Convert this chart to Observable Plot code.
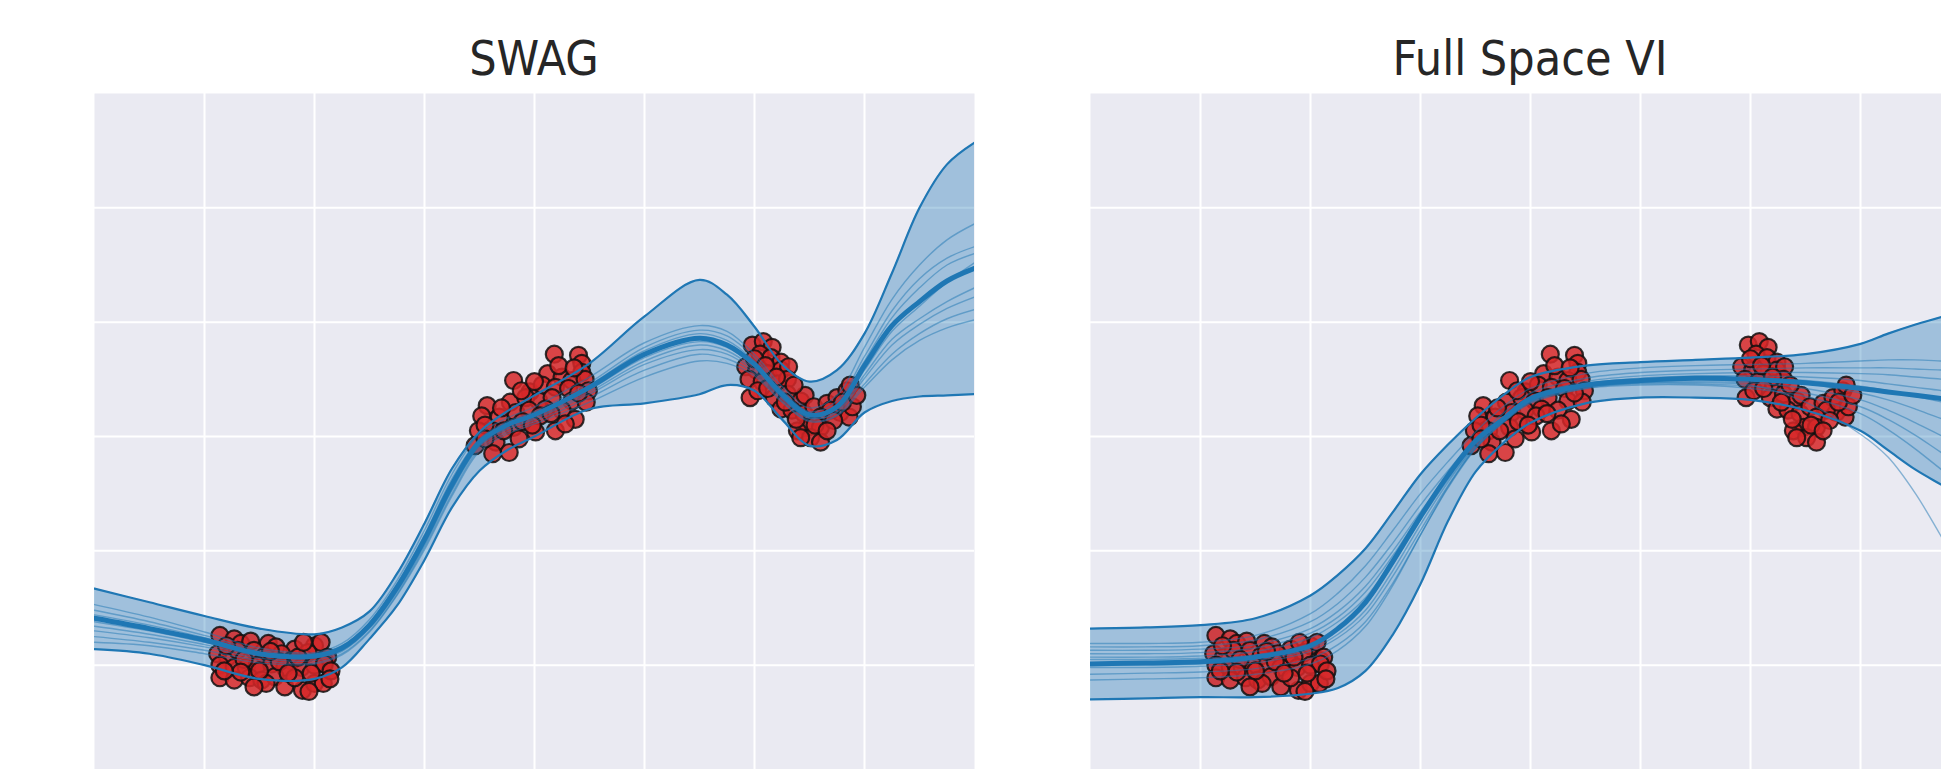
<!DOCTYPE html>
<html>
<head>
<meta charset="utf-8">
<script src="https://cdn.jsdelivr.net/npm/d3@7"></script>
<script src="https://cdn.jsdelivr.net/npm/@observablehq/plot@0.6"></script>
<style>
  html, body { margin: 0; padding: 0; background: #fff; overflow: hidden; width: 1941px; height: 769px; position: relative; }
  .panel { position: absolute; top: 0; width: 996px; height: 779px; }
  .panel svg { max-width: none !important; }
  .title { position: absolute; top: 34px; width: 880px; text-align: center;
           font-family: "DejaVu Sans Condensed", "DejaVu Sans", sans-serif; font-stretch: condensed;
           font-size: 48px; line-height: 48px; color: #262626; }
</style>
</head>
<body>
<div id="p1" class="panel" style="left:0px"></div>
<div id="p2" class="panel" style="left:996px"></div>
<div class="title" id="t1" style="left:94px"></div>
<div class="title" id="t2" style="left:1090px"></div>
<script>
// ---------- panel titles ----------
const titles = ["SWAG", "Full Space VI"];

// ---------- grid positions (no tick labels shown) ----------
const xGrid = [1, 2, 3, 4, 5, 6, 7];
const yGrid = [-2, -1, 0, 1, 2];

// ---------- observed data (same in both panels) ----------
const clusterLeft = [
  [1.14,-1.74],[1.27,-1.77],[1.33,-1.81],[1.42,-1.79],[1.58,-1.81],[1.65,-1.84],[1.82,-1.86],[2.00,-1.83],[2.06,-1.80],
  [1.12,-1.90],[1.21,-1.93],[1.30,-1.87],[1.45,-1.87],[1.55,-1.92],[1.70,-1.90],[1.79,-1.96],[1.94,-1.89],[2.09,-1.96],[2.12,-1.93],
  [1.14,-2.00],[1.27,-2.02],[1.38,-2.02],[1.48,-2.00],[1.61,-1.99],[1.73,-2.02],[1.88,-2.02],[2.00,-2.00],[2.09,-1.99],
  [1.14,-2.11],[1.27,-2.13],[1.41,-2.11],[1.52,-2.13],[1.64,-2.10],[1.73,-2.19],[1.89,-2.22],[2.00,-2.16],[2.08,-2.16],[1.82,-2.11],[1.56,-2.16],
  [1.20,-1.83],[1.36,-1.95],[1.50,-2.05],[1.68,-1.97],[1.85,-1.93],[1.97,-2.07],[2.15,-2.05],[1.33,-2.06],[1.60,-1.88],
  [1.76,-2.07],[1.45,-2.19],[1.95,-2.23],[2.14,-2.12],[1.18,-2.05],[1.90,-1.80]
];
const clusterMiddle = [
  [4.18,0.72],[4.40,0.71],[4.43,0.64],[4.43,0.56],[3.81,0.49],[4.12,0.55],[4.25,0.52],[4.34,0.49],[4.46,0.50],
  [3.96,0.39],[4.07,0.45],[4.19,0.43],[4.31,0.42],[4.49,0.40],
  [3.78,0.30],[3.92,0.34],[4.04,0.31],[4.16,0.34],[4.34,0.31],
  [3.57,0.27],[3.52,0.18],[3.68,0.17],[3.83,0.21],[3.95,0.23],[4.10,0.24],[4.25,0.23],[4.37,0.15],
  [4.19,0.05],[4.01,0.04],[3.81,0.08],[3.62,0.05],[3.49,0.05],[3.65,-0.05],[3.77,-0.14],[3.62,-0.15],[3.46,-0.08],[3.89,0.13],[4.28,0.11],
  [3.55,0.10],[3.70,0.25],[3.88,0.40],[4.00,0.48],[4.22,0.62],[4.36,0.60],[4.47,0.30],[4.05,0.18],[3.72,0.05],
  [3.55,-0.02],[4.15,0.20],[3.86,-0.02],[4.40,0.38],[3.98,0.10]
];
const clusterRight = [
  [5.98,0.80],[6.08,0.83],[6.16,0.78],[6.05,0.72],[6.15,0.69],[6.24,0.65],[5.92,0.61],[6.02,0.58],[6.12,0.55],[6.24,0.58],[6.31,0.61],
  [5.95,0.50],[6.07,0.48],[6.21,0.46],[6.30,0.50],[5.96,0.34],[6.18,0.34],[6.30,0.37],[6.42,0.31],[6.46,0.36],
  [6.24,0.24],[6.34,0.23],[6.45,0.20],[6.54,0.26],[6.66,0.29],[6.75,0.34],[6.84,0.40],[6.87,0.45],
  [6.78,0.21],[6.69,0.23],[6.60,0.17],[6.48,0.08],[6.39,0.05],[6.60,0.08],[6.51,-0.01],[6.60,-0.05],[6.42,-0.01],[6.86,0.17],[6.72,0.14],[6.89,0.26],
  [6.00,0.68],[6.10,0.62],[6.20,0.52],[6.36,0.45],[6.38,0.15],[6.55,0.10],[6.66,0.05],[6.80,0.30],[6.93,0.36],[6.03,0.40],[6.12,0.42],[6.28,0.30]
];

// ---------- SWAG predictive curves ----------
const swagX     = [0, 0.5, 1, 1.5, 2, 2.25, 2.5, 2.75, 3, 3.25, 3.5, 3.75, 4, 4.5, 5, 5.5, 5.75, 6, 6.25, 6.5, 6.75, 7, 7.25, 7.5, 7.75, 8];
const swagUpper = [-1.33,-1.45,-1.57,-1.68,-1.73,-1.67,-1.53,-1.20,-0.76,-0.28,0.04,0.22,0.36,0.64,1.05,1.37,1.24,0.96,0.63,0.48,0.58,0.90,1.43,2.00,2.38,2.57];
const swagLower = [-1.86,-1.90,-2.00,-2.12,-2.12,-2.02,-1.77,-1.48,-1.08,-0.62,-0.30,-0.12,0.00,0.24,0.29,0.37,0.45,0.40,0.15,-0.08,-0.03,0.21,0.31,0.35,0.36,0.37];
const swagMean  = [-1.59,-1.68,-1.78,-1.90,-1.92,-1.85,-1.65,-1.32,-0.90,-0.42,-0.05,0.10,0.19,0.43,0.72,0.86,0.80,0.63,0.37,0.19,0.26,0.62,0.97,1.18,1.36,1.47];
const swagSamples = [
  [-1.47,-1.58,-1.71,-1.85,-1.89,-1.81,-1.60,-1.26,-0.82,-0.33,0.02,0.16,0.26,0.52,0.82,0.97,0.92,0.72,0.44,0.25,0.36,0.78,1.20,1.50,1.72,1.86],
  [-1.52,-1.62,-1.74,-1.87,-1.90,-1.83,-1.63,-1.29,-0.86,-0.37,-0.02,0.13,0.22,0.47,0.78,0.93,0.88,0.69,0.41,0.22,0.31,0.70,1.10,1.38,1.56,1.66],
  [-1.56,-1.65,-1.76,-1.89,-1.92,-1.84,-1.64,-1.30,-0.88,-0.40,-0.03,0.11,0.20,0.45,0.75,0.90,0.84,0.66,0.39,0.20,0.28,0.66,1.04,1.30,1.50,1.60],
  [-1.62,-1.70,-1.80,-1.91,-1.93,-1.86,-1.66,-1.33,-0.92,-0.44,-0.07,0.09,0.18,0.41,0.69,0.83,0.78,0.61,0.35,0.17,0.24,0.58,0.92,1.14,1.35,1.52],
  [-1.66,-1.73,-1.82,-1.92,-1.94,-1.87,-1.67,-1.35,-0.94,-0.46,-0.08,0.07,0.16,0.39,0.66,0.80,0.75,0.59,0.34,0.16,0.22,0.54,0.85,1.03,1.18,1.30],
  [-1.70,-1.76,-1.84,-1.94,-1.96,-1.88,-1.68,-1.36,-0.95,-0.47,-0.09,0.06,0.15,0.37,0.63,0.76,0.72,0.57,0.33,0.16,0.21,0.51,0.80,0.98,1.12,1.22],
  [-1.75,-1.80,-1.87,-1.96,-1.98,-1.90,-1.70,-1.38,-0.97,-0.50,-0.11,0.04,0.13,0.34,0.58,0.72,0.68,0.55,0.31,0.14,0.19,0.46,0.72,0.90,1.03,1.11],
  [-1.80,-1.83,-1.90,-1.98,-1.99,-1.91,-1.71,-1.39,-0.99,-0.52,-0.13,0.02,0.11,0.30,0.52,0.66,0.64,0.53,0.30,0.13,0.18,0.43,0.67,0.84,0.95,1.02]
];

// ---------- Full Space VI predictive curves ----------
const viX     = [0, 0.5, 1, 1.5, 2, 2.25, 2.5, 2.75, 3, 3.25, 3.5, 3.75, 4, 4.5, 5, 5.5, 6, 6.5, 7, 7.25, 7.5, 7.75, 8];
const viUpper = [-1.68,-1.67,-1.65,-1.59,-1.39,-1.21,-0.98,-0.66,-0.33,-0.07,0.16,0.36,0.52,0.62,0.65,0.67,0.69,0.72,0.81,0.90,0.98,1.05,1.13];
const viLower = [-2.30,-2.29,-2.28,-2.28,-2.25,-2.20,-2.05,-1.73,-1.29,-0.74,-0.31,-0.06,0.12,0.29,0.34,0.34,0.32,0.23,0.05,-0.12,-0.29,-0.43,-0.57];
const viMean  = [-1.99,-1.98,-1.97,-1.93,-1.83,-1.68,-1.45,-1.09,-0.70,-0.34,-0.04,0.15,0.33,0.45,0.49,0.51,0.50,0.47,0.42,0.39,0.36,0.33,0.30];
const viSamples = [
  [-1.81,-1.81,-1.80,-1.74,-1.55,-1.37,-1.13,-0.82,-0.50,-0.22,0.04,0.26,0.42,0.55,0.60,0.62,0.63,0.64,0.66,0.67,0.67,0.66,0.65],
  [-1.84,-1.84,-1.83,-1.78,-1.62,-1.46,-1.23,-0.93,-0.60,-0.30,-0.02,0.20,0.38,0.51,0.56,0.58,0.59,0.60,0.60,0.60,0.59,0.58,0.56],
  [-1.87,-1.87,-1.86,-1.82,-1.68,-1.53,-1.31,-1.00,-0.66,-0.34,-0.05,0.17,0.35,0.48,0.53,0.55,0.56,0.56,0.55,0.54,0.52,0.50,0.47],
  [-1.93,-1.93,-1.92,-1.88,-1.76,-1.62,-1.41,-1.08,-0.70,-0.36,-0.07,0.15,0.33,0.46,0.51,0.53,0.53,0.52,0.49,0.46,0.43,0.40,0.36],
  [-2.02,-2.02,-2.01,-1.98,-1.88,-1.76,-1.56,-1.22,-0.82,-0.43,-0.10,0.13,0.31,0.44,0.49,0.51,0.51,0.49,0.44,0.40,0.35,0.30,0.24],
  [-2.08,-2.07,-2.06,-2.03,-1.94,-1.82,-1.62,-1.28,-0.86,-0.45,-0.11,0.12,0.30,0.43,0.48,0.50,0.49,0.46,0.38,0.32,0.24,0.15,0.06],
  [-2.13,-2.12,-2.11,-2.08,-1.99,-1.87,-1.66,-1.30,-0.86,-0.44,-0.10,0.12,0.29,0.42,0.47,0.48,0.47,0.42,0.32,0.23,0.12,0.00,-0.12],
  [-1.95,-1.95,-1.94,-1.91,-1.81,-1.68,-1.47,-1.12,-0.73,-0.38,-0.08,0.14,0.31,0.43,0.46,0.46,0.44,0.38,0.26,0.15,0.01,-0.15,-0.30],
  [-2.00,-2.00,-1.99,-1.96,-1.86,-1.73,-1.52,-1.17,-0.77,-0.40,-0.09,0.13,0.30,0.42,0.45,0.45,0.42,0.35,0.20,0.06,-0.11,-0.30,-0.48],
  [-1.90,-1.90,-1.89,-1.85,-1.72,-1.58,-1.36,-1.04,-0.68,-0.35,-0.06,0.16,0.33,0.44,0.47,0.47,0.45,0.30,0.02,-0.18,-0.50,-0.90,-1.30]
];

const BLUE = "#1f77b4";
const points = [...clusterLeft, ...clusterMiddle, ...clusterRight];

function panel(xs, upper, lower, mean, samples) {
  const band = xs.map((x, i) => ({x, lo: lower[i], hi: upper[i], m: mean[i]}));
  const sampleRows = samples.flatMap((s, k) => xs.map((x, i) => ({x, y: s[i], k})));
  const curve = "catmull-rom";
  return Plot.plot({
    width: 996, height: 779,
    marginLeft: 94, marginRight: 22, marginTop: 93, marginBottom: 0,
    x: {domain: [0, 8], axis: null},
    y: {domain: [-3, 3], axis: null},
    style: {background: "transparent", maxWidth: "none"},
    marks: [
      Plot.frame({fill: "#EAEAF2"}),
      Plot.gridX(xGrid, {stroke: "#ffffff", strokeOpacity: 1, strokeWidth: 2}),
      Plot.gridY(yGrid, {stroke: "#ffffff", strokeOpacity: 1, strokeWidth: 2}),
      Plot.areaY(band, {x: "x", y1: "lo", y2: "hi", fill: BLUE, fillOpacity: 0.36, curve, clip: true}),
      Plot.dot(points, {x: d => d[0], y: d => d[1], r: 8.5, fill: "#d62728", fillOpacity: 0.85,
                        stroke: "#111111", strokeOpacity: 0.85, strokeWidth: 2.2}),
      Plot.line(band, {x: "x", y: "hi", stroke: BLUE, strokeWidth: 2.2, curve, clip: true}),
      Plot.line(band, {x: "x", y: "lo", stroke: BLUE, strokeWidth: 2.2, curve, clip: true}),
      Plot.line(sampleRows, {x: "x", y: "y", z: "k", stroke: BLUE, strokeOpacity: 0.5, strokeWidth: 1.4, curve, clip: true}),
      Plot.line(band, {x: "x", y: "m", stroke: BLUE, strokeWidth: 5, curve, clip: true})
    ]
  });
}

document.getElementById("t1").textContent = titles[0];
document.getElementById("t2").textContent = titles[1];
document.getElementById("p1").append(panel(swagX, swagUpper, swagLower, swagMean, swagSamples));
document.getElementById("p2").append(panel(viX, viUpper, viLower, viMean, viSamples));
</script>
</body>
</html>
